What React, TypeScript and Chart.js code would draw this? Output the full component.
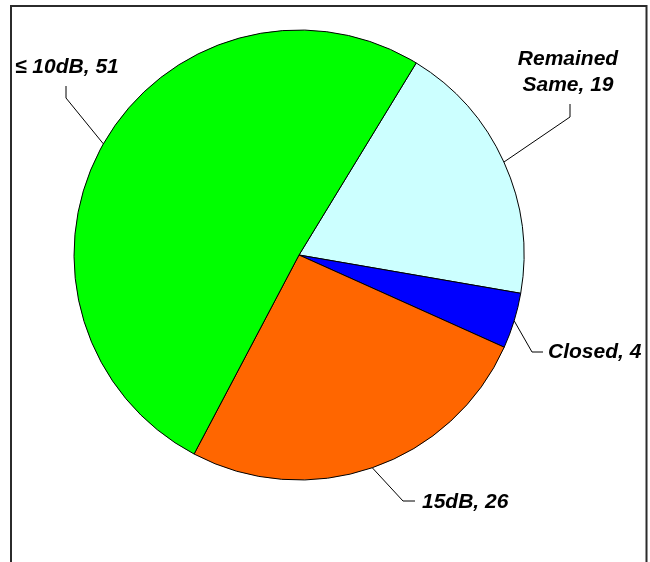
import React, { useEffect, useRef } from "react";
import { Chart, registerables } from "chart.js";

Chart.register(...registerables);

const categories = ["Remained Same", "Closed", "15dB", "≤ 10dB"];
const values = [19, 4, 26, 51];
const colors = ["#CCFFFF", "#0000FF", "#FF6600", "#00FF00"];
const wrapLabel = [true, false, false, false];

// Label layout, pixel offsets from the pie centre
const labelLayout = [
  { elbow: [271, -138], end: [271, -151], text: [269, -190], align: "center" },
  { elbow: [233, 97], end: [244, 97], text: [249, 103], align: "left" },
  { elbow: [104, 246], end: [116, 246], text: [123, 253], align: "left" },
  { elbow: [-233, -157], end: [-233, -169], text: [-284, -182], align: "left" },
];

const LABEL_FONT = "italic bold 21px 'Liberation Sans', Arial, sans-serif";
const LINE_HEIGHT = 26;

const framePlugin = {
  id: "frame",
  beforeDraw(chart: any) {
    const ctx = chart.ctx;
    ctx.save();
    ctx.fillStyle = "#ffffff";
    ctx.fillRect(0, 0, chart.width, chart.height);
    ctx.strokeStyle = "#2b2b2b";
    ctx.lineWidth = 2;
    ctx.strokeRect(11, 6, 635.5, 700);
    ctx.restore();
  },
};

const labelPlugin = {
  id: "pieLabels",
  afterDraw(chart: any) {
    const ctx = chart.ctx;
    const meta = chart.getDatasetMeta(0);
    ctx.save();
    meta.data.forEach((arc: any, i: number) => {
      const { x, y, startAngle, endAngle, outerRadius } = arc.getProps(
        ["x", "y", "startAngle", "endAngle", "outerRadius"],
        true
      );
      const mid = (startAngle + endAngle) / 2;
      const sx = x + Math.cos(mid) * outerRadius;
      const sy = y + Math.sin(mid) * outerRadius;
      const L = labelLayout[i];
      ctx.strokeStyle = "#000000";
      ctx.lineWidth = 1;
      ctx.beginPath();
      ctx.moveTo(sx, sy);
      ctx.lineTo(x + L.elbow[0], y + L.elbow[1]);
      ctx.lineTo(x + L.end[0], y + L.end[1]);
      ctx.stroke();

      const text = `${categories[i]}, ${values[i]}`;
      let lines: string[] = [text];
      if (wrapLabel[i]) {
        const sp = text.indexOf(" ");
        lines = [text.slice(0, sp), text.slice(sp + 1)];
      }
      ctx.font = LABEL_FONT;
      ctx.fillStyle = "#000000";
      ctx.textAlign = L.align;
      ctx.textBaseline = "alphabetic";
      lines.forEach((ln, k) => {
        ctx.fillText(ln, x + L.text[0], y + L.text[1] + k * LINE_HEIGHT);
      });
    });
    ctx.restore();
  },
};

export default function App() {
  const ref = useRef<HTMLCanvasElement | null>(null);
  useEffect(() => {
    if (!ref.current) return;
    const chart = new Chart(ref.current, {
      type: "pie",
      data: {
        labels: categories,
        datasets: [
          {
            data: values,
            backgroundColor: colors,
            borderColor: "#000000",
            borderWidth: 1,
          },
        ],
      },
      options: {
        responsive: false,
        animation: false,
        rotation: 31.4,
        radius: 225,
        layout: { padding: { left: 74, right: 126, top: 30, bottom: 82 } },
        plugins: {
          legend: { display: false },
          tooltip: { enabled: false },
        },
      } as any,
      plugins: [framePlugin, labelPlugin],
    });
    return () => chart.destroy();
  }, []);
  return (
    <div style={{ position: "fixed", left: 0, top: 0, width: 650, height: 562 }}>
      <canvas ref={ref} width={650} height={562} />
    </div>
  );
}
